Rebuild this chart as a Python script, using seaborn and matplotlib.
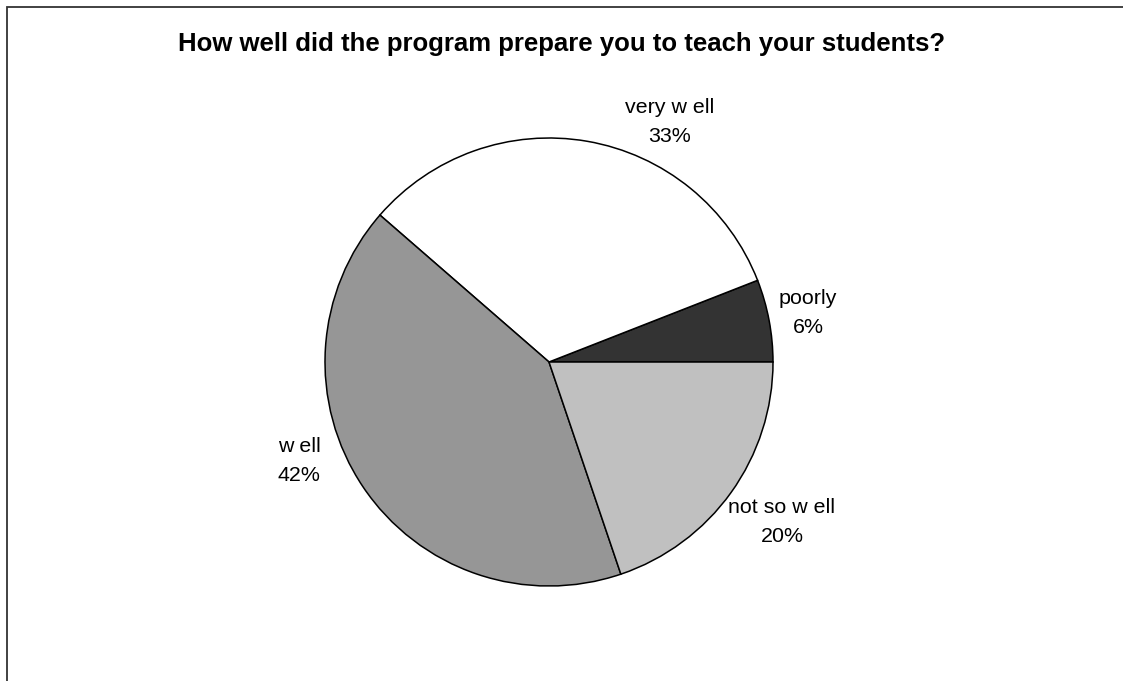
import matplotlib
matplotlib.use("Agg")
import matplotlib.pyplot as plt
from matplotlib.patches import Rectangle
import seaborn as sns

# Survey responses
categories = ["poorly", "very w ell", "w ell", "not so w ell"]
percents = [6, 33, 42, 20]
slice_colors = ["#333333", "#FFFFFF", "#969696", "#C0C0C0"]
title = "How well did the program prepare you to teach your students?"

sns.set_theme(style="white")
plt.rcParams["font.family"] = ["Liberation Sans", "DejaVu Sans"]

W, H = 1123, 681
fig = plt.figure(figsize=(W / 100, H / 100), dpi=100)
ax = fig.add_axes([0, 0, 1, 1])

# pixel-style layout (y measured from top)
cx, cy, radius = 549, 362, 224
label_xy = [(808, 313), (670, 122), (299, 461), (782, 522)]

ax.pie(
    percents,
    colors=slice_colors,
    startangle=0,
    counterclock=True,
    center=(cx, H - cy),
    radius=radius,
    wedgeprops=dict(edgecolor="black", linewidth=1.1),
    frame=True,
)
ax.set_xlim(0, W)
ax.set_ylim(0, H)
ax.set_aspect("equal")
ax.axis("off")

for (lx, ly), cat, pct in zip(label_xy, categories, percents):
    ax.text(lx, H - ly, f"{cat}\n{pct}%", ha="center", va="center",
            fontsize=15.4, linespacing=1.65, color="black")

ax.text(562, H - 44, title, ha="center", va="center",
        fontsize=18.5, fontweight="bold", color="black")

# chart-area border
fig.patches.append(Rectangle((6.5 / W, 0 - 0.05), 1.1, (H - 7.5) / H + 0.05,
                             transform=fig.transFigure, fill=False,
                             edgecolor="#333333", linewidth=1.3))

fig.savefig("out.png", dpi=100, facecolor="white")
